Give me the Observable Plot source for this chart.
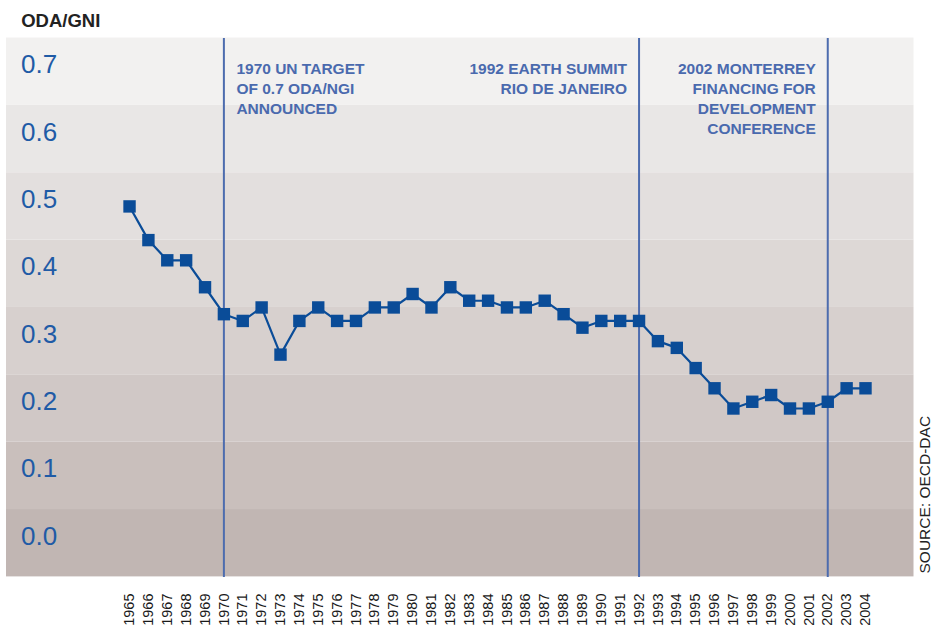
<!DOCTYPE html>
<html>
<head>
<meta charset="utf-8">
<script src="https://cdn.jsdelivr.net/npm/d3@7"></script>
<script src="https://cdn.jsdelivr.net/npm/@observablehq/plot@0.6"></script>
<style>
  html, body { margin: 0; padding: 0; background: #ffffff; }
  #chart svg { display: block; font-family: "Liberation Sans", Arial, Helvetica, sans-serif; }
  g[aria-label="ylabels"] text { letter-spacing: 2.5px; }
</style>
</head>
<body>
<div id="chart"></div>
<script>
const years = d3.range(1965, 2005);
const odaGni = [
  0.49, 0.44, 0.41, 0.41, 0.37, 0.33, 0.32, 0.34, 0.27, 0.32,
  0.34, 0.32, 0.32, 0.34, 0.34, 0.36, 0.34, 0.37, 0.35, 0.35,
  0.34, 0.34, 0.35, 0.33, 0.31, 0.32, 0.32, 0.32, 0.29, 0.28,
  0.25, 0.22, 0.19, 0.20, 0.21, 0.19, 0.19, 0.20, 0.22, 0.22
];
const yTicks = [0.0, 0.1, 0.2, 0.3, 0.4, 0.5, 0.6, 0.7];
const yTickLabels = ["0.0", "0.1", "0.2", "0.3", "0.4", "0.5", "0.6", "0.7"];
const bandColors = ["#c1b6b3", "#c9bfbc", "#d0c8c6", "#d7d0ce", "#ddd8d6", "#e3dfde", "#e9e7e6", "#f2f1f0"];
const eventYears = [1970, 1992, 2002];
const eventLabelsLeft = [{year: 1970, text: "1970 UN TARGET\nOF 0.7 ODA/NGI\nANNOUNCED"}];
const eventLabelsRight = [
  {year: 1992, text: "1992 EARTH SUMMIT\nRIO DE JANEIRO"},
  {year: 2002, text: "2002 MONTERREY\nFINANCING FOR\nDEVELOPMENT\nCONFERENCE"}
];
const title = "ODA/GNI";
const source = "SOURCE: OECD-DAC";

const data = years.map((year, i) => ({year, value: odaGni[i]}));
const bands = yTicks.map((t, i) => ({tick: t, y1: t - 0.06, y2: t + 0.04, label: yTickLabels[i]}));

const xDomain = [1958.48, 2006.57];
const yDomain = [-0.0609, 0.7393];
const blue = "#0a4c98";
const ruleBlue = "#4d6cae";
const annBlue = "#4a6aae";

const plot = Plot.plot({
  width: 931,
  height: 627,
  marginLeft: 6,
  marginRight: 17.5,
  marginTop: 38,
  marginBottom: 50,
  style: {background: "#ffffff", overflow: "visible"},
  x: {domain: xDomain, axis: null},
  y: {domain: yDomain, axis: null},
  color: {type: "ordinal", domain: yTicks, range: bandColors},
  marks: [
    Plot.rect(bands, {y1: "y1", y2: "y2", fill: "tick"}),
    Plot.text(bands, {
      x: xDomain[0], y: "tick", text: "label", dx: 14.5,
      textAnchor: "start", lineAnchor: "middle",
      fontSize: 26, fill: "#1f5ba6", ariaLabel: "ylabels"
    }),
    Plot.ruleX(eventYears, {stroke: ruleBlue, strokeWidth: 2}),
    Plot.text(eventLabelsLeft, {
      x: "year", text: "text", frameAnchor: "top", dx: 12.5, dy: 21.5,
      textAnchor: "start", lineAnchor: "top", lineHeight: 1.29,
      fontSize: 15.5, fontWeight: "bold", fill: annBlue
    }),
    Plot.text(eventLabelsRight, {
      x: "year", text: "text", frameAnchor: "top", dx: -12, dy: 21.5,
      textAnchor: "end", lineAnchor: "top", lineHeight: 1.29,
      fontSize: 15.5, fontWeight: "bold", fill: annBlue
    }),
    Plot.line(data, {x: "year", y: "value", stroke: blue, strokeWidth: 2.2}),
    Plot.dot(data, {x: "year", y: "value", symbol: "square", r: 7, fill: blue, stroke: "none"}),
    Plot.text(years, {
      x: d => d, text: d => String(d), frameAnchor: "bottom", dy: 16,
      rotate: -90, textAnchor: "end", lineAnchor: "middle",
      fontSize: 14.5, fill: "#1a1a1a"
    }),
    Plot.text([title], {
      text: d => d, frameAnchor: "top-left", dx: 14.7, dy: -11.3,
      textAnchor: "start", lineAnchor: "bottom",
      fontSize: 18.5, fontWeight: "bold", fill: "#222222"
    }),
    Plot.text([source], {
      text: d => d, frameAnchor: "bottom-right", dx: 4.5, dy: -4,
      rotate: -90, textAnchor: "start", lineAnchor: "top",
      fontSize: 15.5, fill: "#222222"
    })
  ]
});
document.getElementById("chart").appendChild(plot);
</script>
</body>
</html>
